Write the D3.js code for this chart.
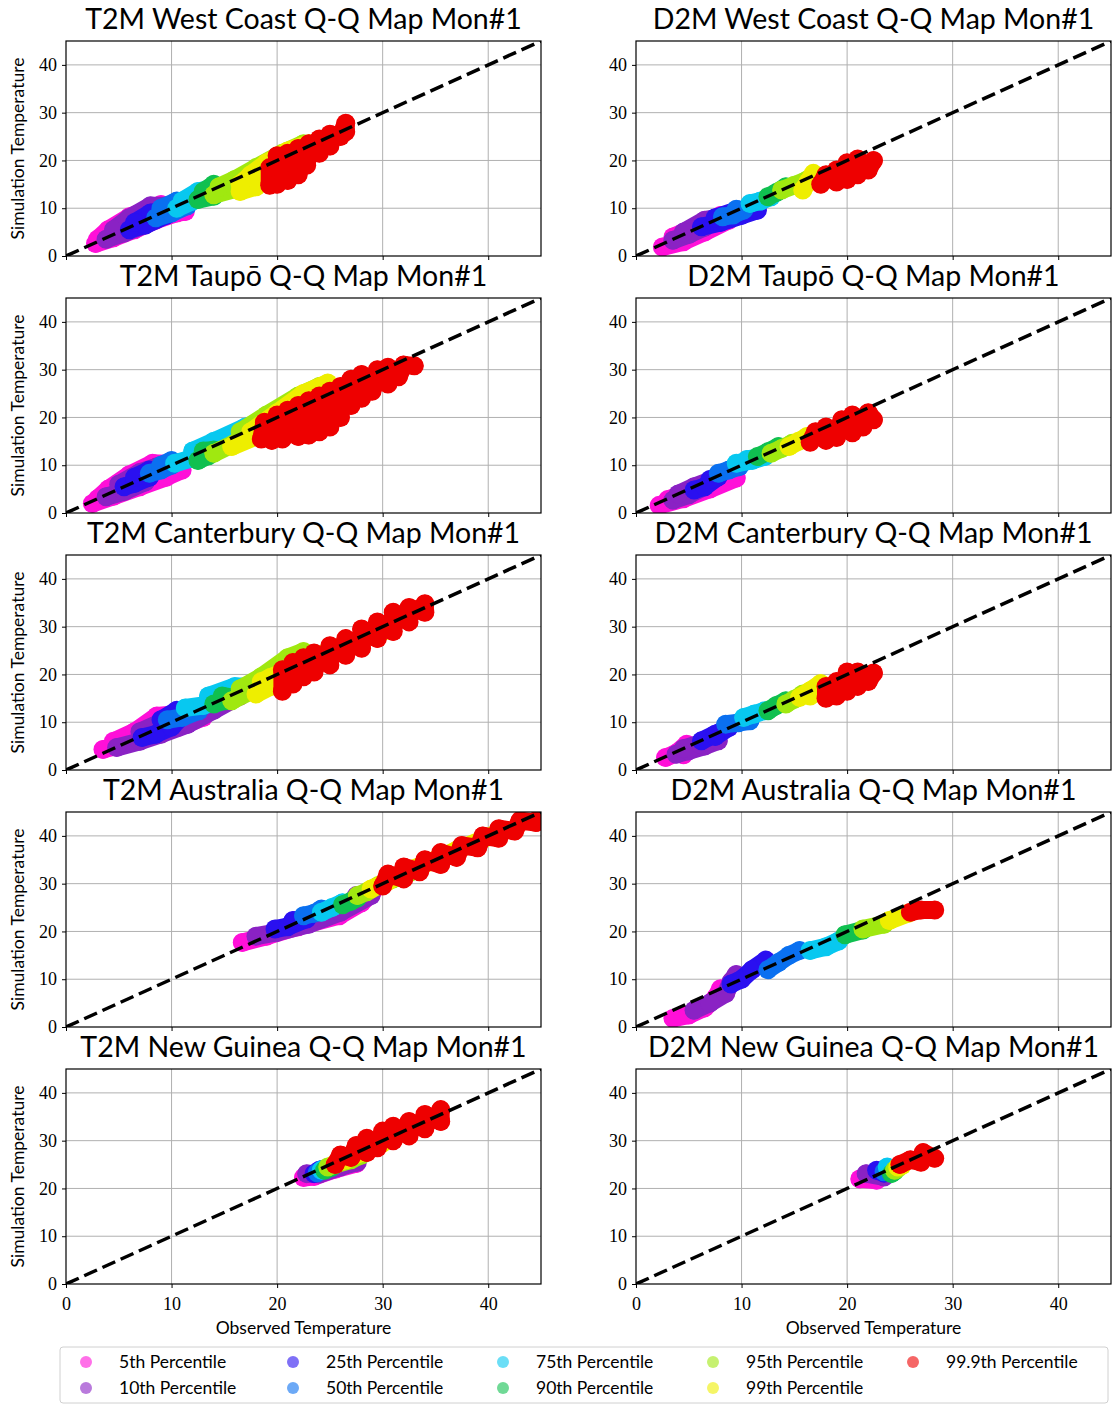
<!DOCTYPE html>
<html>
<head>
<meta charset="utf-8">
<script src="https://cdn.jsdelivr.net/npm/d3@7"></script>
<style>
  body { margin: 0; background: #fff; }
  svg text { fill: #000; }
</style>
</head>
<body>
<div id="chart"></div>
<script>
// legend labels and scatter colours, drawn 5th first, 99.9th last
const percentiles = ['5th Percentile', '10th Percentile', '25th Percentile', '50th Percentile', '75th Percentile',
                     '90th Percentile', '95th Percentile', '99th Percentile', '99.9th Percentile'];
const pColors = ['#ff10d8', '#8a22c4', '#2a10f0', '#0a70f0', '#08c8f0', '#10c050', '#a0e810', '#eeee00', '#ee0000'];

const ticks = [0, 10, 20, 30, 40];
const diag = [[0, 0], [45, 45]];

// each panel: one list of [observed, simulated] per percentile
const t2mWestCoast = [
  [[2.8,2.6],[4.5,3.8],[6.5,5.5],[8.5,7.5],[10.5,9],[11.3,9.3],[9,10.8],[6,8.2],[4,5.5],[3,3.5]],
  [[3.8,3.5],[5.5,4.8],[7.5,6.5],[9.5,8.5],[10,10.5],[8,10.5],[6,8],[4.5,5.5]],
  [[6,5.5],[7.5,6.5],[9.5,8.5],[10,10],[8,9],[6.5,7]],
  [[8.5,8],[10,9],[11.5,10.5],[10.5,11.5],[9,10]],
  [[10.5,10],[12,11.5],[13.5,13],[14.5,14.5],[12.5,13.5],[11,11.5]],
  [[12.5,11.8],[14,12.5],[15,14],[14,15],[13,13.5]],
  [[14,12.8],[16,14],[17.5,16.5],[19,18.5],[21,21],[22.5,23.5],[20.5,21.5],[18,18.5],[16,16],[14.5,14.5]],
  [[16.5,13.5],[18,14.5],[19,16.5],[20.5,19],[22,22],[23,23.5],[21,22],[19,19.5],[17.5,17],[16.5,15]],
  [[19.3,14.8],[19.3,18.5],[20,15],[20,21],[21,15.8],[21,21.5],[22,17],[22,22.5],[22.8,19],[23,23.5],[24,21.5],[24,24.5],[25,23],[25,25.5],[26,25],[26.5,27.8],[26.5,26]]
];
const t2mTaupo = [
  [[2.5,2],[4.5,3.5],[7,5.5],[9.5,7.5],[11,9],[10.5,10.2],[8.2,10.4],[6,8],[4,5],[3,3]],
  [[3.8,3.4],[5.5,4.5],[7.5,6.5],[8.6,9.7],[7,8.5],[5,6]],
  [[5.5,5.5],[6.5,6.2],[7.9,7.5],[7.9,9],[6.5,7.5]],
  [[7.9,8.3],[9,9],[10,10],[10,11],[9,10]],
  [[10.3,10.4],[12,11.5],[14.7,14.6],[16.5,16.5],[18.5,18.8],[20,20.2],[17,18],[14,15],[12,13]],
  [[12.5,11],[13.5,12],[14,13.2],[13,13]],
  [[14,12.5],[16,14.6],[18,17.5],[20,20],[22,23.5],[24,26.5],[22,24.5],[19,20.5],[16.5,17]],
  [[15.7,13.9],[18,16],[19.5,18.5],[21.5,21.5],[23.5,25],[24.8,27.2],[22.5,25],[20,21],[17.5,17]],
  [[18.5,15.5],[18.8,19],[19.5,15.2],[20,20.5],[20.5,15.5],[21,21.5],[22,16],[22,22.5],[23,16.3],[23,23.5],[24,17],[24,24.5],[25,18],[25,25.5],[26,20],[26,26.5],[27,22.5],[27,28],[28,24],[28,29],[29,25.5],[29.5,30],[30.5,27],[30.5,30.5],[31.5,28.5],[32,31],[33,30.8]]
];
const t2mCanterbury = [
  [[3.5,4.3],[5.5,5.5],[8,7.5],[10.6,8.9],[13,11],[12,12],[8.6,11.3],[6.5,8],[4.5,6]],
  [[4.8,4.7],[7,6],[9,7.5],[11.5,9.5],[14,12.5],[16.5,15.5],[15,15.5],[12,12.5],[9.5,10.5],[7,8]],
  [[7.2,6.8],[8.5,7.5],[10,9],[11.3,12],[10.5,12.5],[9,10.5]],
  [[9.6,10.5],[11,11],[12.6,12.4],[11.5,12.5]],
  [[11.3,13],[13,13.5],[15,14.8],[17.4,17.5],[16,17.5],[13.5,15.5]],
  [[14,13.8],[15,14.5],[15.7,15.2],[14.8,15.5]],
  [[15.7,14.5],[17.5,16.5],[19.5,19],[21,21.5],[22.5,24.8],[21,23.5],[18.5,19.5],[16.5,17]],
  [[18,15.9],[19.4,17.5],[19.4,19.4],[18.5,18.5],[25,25],[27.5,27],[30.3,29.2]],
  [[20.5,16.5],[20.5,21],[21.5,18],[21.5,22.5],[22.5,19.5],[22.5,23.5],[23.5,20.5],[23.5,24.5],[25,22],[25,26],[26.5,24],[26.5,27.5],[28,25.5],[28,29.5],[29.5,27.5],[29.5,31],[31,29],[31,33],[32.5,31],[32.5,34],[34,33],[34,34.8]]
];
const t2mAustralia = [
  [[16.7,17.7],[19,19],[22,21],[25.9,23.3],[28,26],[29,28.2]],
  [[18,19],[20,19.8],[23,21.5],[26,24],[28.9,27.5],[27.5,27.5]],
  [[19.8,20.5],[21,21],[22.8,22.6],[21.5,22.3]],
  [[22.5,23.3],[23.5,23.8],[24.2,24.7]],
  [[24.2,24],[25.2,25],[26.2,26]],
  [[26.2,25.6],[27,26.3],[27.6,27]],
  [[27.6,27.5],[28.5,28.3],[29.6,29.6],[31,31],[32.6,32.4]],
  [[28.9,28.9],[30.5,30.5],[32,32.5],[33.7,33.8],[37,37],[40.4,40.1]],
  [[30,29.5],[30.5,32],[32,31],[32,33.5],[33.5,32.5],[34,35],[35.5,34],[35.5,36.5],[37,35.5],[37.5,38],[39,37.5],[39.5,40],[41,39.5],[41,41.5],[42.5,41],[43,43.2],[44.5,42.8],[45,44.5]]
];
const t2mNewGuinea = [
  [[22.5,22.3],[23.5,22.5],[25.5,24],[27.5,25.2]],
  [[22.8,23.1],[24,23],[26,24.5],[27.6,25.5]],
  [[23.5,23.1],[24,23.8]],
  [[23.8,23.3],[24.3,24]],
  [[24.2,23.8],[24.8,24.3]],
  [[24.5,23.8],[25.2,24.5]],
  [[24.8,24.5],[25.5,25],[27,26],[28,27]],
  [[25.5,25.2],[26.5,26],[28,27.5],[30,29.5]],
  [[25.5,25],[26,27],[27,26.5],[27.5,29],[28.5,27.5],[28.5,30.5],[29.5,28.5],[30,32],[31,30],[31,33],[32.5,31],[32.5,34],[34,32.5],[34,35.5],[35.5,34],[35.5,36.5]]
];
const d2mWestCoast = [
  [[2.5,1.9],[4.5,3],[6.5,5],[8.8,7.5],[8,8.5],[5.5,6],[3.5,4]],
  [[3.5,3.3],[5,4.5],[6.5,6],[8.2,8.2],[6.5,7.5],[4.5,5]],
  [[6.2,6.1],[8,7],[10,8.5],[11.5,9.6],[9.5,9.5],[7.5,8]],
  [[8.2,8.2],[9.2,8.6],[10.2,9.6],[9.5,9.8]],
  [[10.8,11],[11.8,11.5],[12.8,12.4]],
  [[12.5,12.4],[13.3,13.3],[14.2,14.5]],
  [[13.8,13.8],[15,14.8],[16.2,15.9]],
  [[15.8,13.8],[16.3,15.5],[16.8,17.3]],
  [[17.5,15],[18,17],[19,15.5],[19,18],[20,16],[20,19.5],[21,17],[21,20.3],[22,18],[22.5,20]]
];
const d2mTaupo = [
  [[2.2,1.6],[4.5,3],[7,5],[9.5,7.3],[8,7.5],[5,4.5],[3,2.8]],
  [[3.5,2.7],[5,3.8],[6.5,5.5],[7.2,6.9],[5.5,5.5],[4,4]],
  [[5.5,4.8],[6.5,5.5],[7.8,7.6],[7,7]],
  [[7.8,8.3],[8.8,9],[9.8,9.7]],
  [[9.5,10.4],[11,11],[12.2,11.8],[10.5,11.2]],
  [[11.5,11.8],[12.5,12.8],[13.5,13.9]],
  [[12.8,12.5],[13.8,13.5],[14.8,14.6]],
  [[14.5,13.9],[15.4,15],[16.2,16]],
  [[16.5,14.8],[17,17],[18,15.2],[18,18],[19,15.8],[19.5,19.5],[20.5,16.8],[20.5,20.5],[21.5,18],[22,21],[22.5,19.5]]
];
const d2mCanterbury = [
  [[2.8,2.6],[3.8,3.5],[4.8,5.4],[4.5,3.2]],
  [[3.8,3.3],[5,4],[6.5,5],[7.8,6.1],[6,5.5],[4.5,4.5]],
  [[6.2,6.1],[7.5,7.5],[8.8,8.9],[7.5,7]],
  [[8.5,9.6],[9.7,9.9],[10.8,10.3]],
  [[10.2,11],[11.2,11.7],[12.2,12.4]],
  [[12.5,12.4],[13.3,13.5],[14.2,14.5]],
  [[14.2,13.8],[15,14.8],[15.8,15.9]],
  [[15.5,15.2],[16.5,16.6],[17.5,18.1],[16.5,15.5]],
  [[18,15],[18,17.5],[19,15.5],[19,18.5],[20,16.5],[20,20.5],[21,17.5],[21,20.5],[22,18.5],[22.5,20.3]]
];
const d2mAustralia = [
  [[3.5,1.8],[5,2.5],[6.5,4],[7.5,6],[8,8]],
  [[5.5,3.5],[7,5],[8.5,7],[9,9.5],[9.5,11]],
  [[9,9],[10,10],[11,12],[12.3,14]],
  [[12.5,12],[13.5,13.5],[14.5,15],[15.5,16]],
  [[16.5,16],[18,16.8],[19.2,18]],
  [[19.8,19.3],[21.5,20.3]],
  [[21.5,20.5],[23.5,21.5]],
  [[24,22.3],[25.8,23.8]],
  [[26,24],[27,24.5],[28.3,24.5]]
];
const d2mNewGuinea = [
  [[21.2,22],[22.8,21.7]],
  [[21.8,23.1],[23.5,22.4]],
  [[22.8,23.8],[23.5,23.2]],
  [[23.5,23.5],[23.8,24]],
  [[23.8,24.5],[24.2,23.8]],
  [[24.2,23.1],[24.5,23.6]],
  [[24.5,23.8],[24.8,24.2]],
  [[24.8,24.5],[25.2,24.8]],
  [[25,25],[26,26],[27,25.5],[27.2,27.5],[28.3,26.3]]
];

const panels = [
  {title: 'T2M West Coast Q-Q Map Mon#1', data: t2mWestCoast},
  {title: 'D2M West Coast Q-Q Map Mon#1', data: d2mWestCoast},
  {title: 'T2M Taupō Q-Q Map Mon#1', data: t2mTaupo},
  {title: 'D2M Taupō Q-Q Map Mon#1', data: d2mTaupo},
  {title: 'T2M Canterbury Q-Q Map Mon#1', data: t2mCanterbury},
  {title: 'D2M Canterbury Q-Q Map Mon#1', data: d2mCanterbury},
  {title: 'T2M Australia Q-Q Map Mon#1', data: t2mAustralia},
  {title: 'D2M Australia Q-Q Map Mon#1', data: d2mAustralia},
  {title: 'T2M New Guinea Q-Q Map Mon#1', data: t2mNewGuinea},
  {title: 'D2M New Guinea Q-Q Map Mon#1', data: d2mNewGuinea}
];

const W = 1113, H = 1405;
const colX = [66, 636];
const rowTop = 41, rowStep = 257;
const pw = 475, ph = 215;
const sansFont = 'Lato, "DejaVu Sans", sans-serif';
const serifFont = '"Liberation Serif", "DejaVu Serif", serif';

const svg = d3.select('#chart').append('svg')
  .attr('width', W).attr('height', H)
  .attr('font-family', sansFont);

const x = d3.scaleLinear().domain([0, 45]).range([0, pw]);
const y = d3.scaleLinear().domain([0, 45]).range([ph, 0]);
const line = d3.line().x(d => x(d[0])).y(d => y(d[1]));

panels.forEach((p, i) => {
  const col = i % 2, row = Math.floor(i / 2);
  const g = svg.append('g').attr('transform', `translate(${colX[col]},${rowTop + row * rowStep})`);

  g.append('defs').append('clipPath').attr('id', 'clip' + i)
    .append('rect').attr('width', pw).attr('height', ph);

  // grid
  g.append('g').selectAll('line').data(ticks.slice(1)).enter().append('line')
    .attr('x1', d => x(d)).attr('x2', d => x(d)).attr('y1', 0).attr('y2', ph)
    .style('stroke', '#b0b0b0').style('stroke-width', 1);
  g.append('g').selectAll('line').data(ticks.slice(1)).enter().append('line')
    .attr('y1', d => y(d)).attr('y2', d => y(d)).attr('x1', 0).attr('x2', pw)
    .style('stroke', '#b0b0b0').style('stroke-width', 1);

  // percentile clouds
  const clouds = g.append('g').attr('clip-path', `url(#clip${i})`);
  p.data.forEach((pts, k) => {
    clouds.append('path').datum(pts).attr('d', line)
      .style('fill', 'none').style('stroke', pColors[k]).style('stroke-width', 18)
      .style('stroke-linecap', 'round').style('stroke-linejoin', 'round');
    clouds.selectAll(null).data(pts).enter().append('circle')
      .attr('cx', d => x(d[0])).attr('cy', d => y(d[1])).attr('r', 9.5)
      .style('fill', pColors[k]);
  });

  // 1:1 line
  g.append('path').datum(diag).attr('d', line).attr('clip-path', `url(#clip${i})`)
    .style('fill', 'none').style('stroke', '#000').style('stroke-width', 3.5)
    .style('stroke-dasharray', '14,6');

  // axes
  const xa = g.append('g').attr('transform', `translate(0,${ph})`)
    .call(d3.axisBottom(x).tickValues(ticks).tickSize(4).tickPadding(9).tickFormat(row === 4 ? d3.format('d') : ''));
  const ya = g.append('g')
    .call(d3.axisLeft(y).tickValues(ticks).tickSize(4).tickPadding(5).tickFormat(d3.format('d')));
  [xa, ya].forEach(a => {
    a.attr('font-family', serifFont).attr('font-size', 18);
    a.select('.domain').remove();
    a.selectAll('text').style('font-family', serifFont).style('font-size', '18px').style('fill', '#000');
    a.selectAll('line').style('stroke', '#000');
  });

  g.append('rect').attr('width', pw).attr('height', ph)
    .style('fill', 'none').style('stroke', '#000').style('stroke-width', 1.2);

  g.append('text').attr('x', pw / 2).attr('y', -12).attr('text-anchor', 'middle')
    .style('font-size', '28.5px').text(p.title);

  if (col === 0) {
    g.append('text').attr('transform', 'rotate(-90)').attr('x', -ph / 2).attr('y', -42)
      .attr('text-anchor', 'middle').style('font-size', '17.5px').text('Simulation Temperature');
  }
  if (row === 4) {
    g.append('text').attr('x', pw / 2).attr('y', ph + 50).attr('text-anchor', 'middle')
      .style('font-size', '17.5px').text('Observed Temperature');
  }
});

// legend
const lg = svg.append('g').attr('transform', 'translate(60,1347)');
lg.append('rect').attr('width', 1048).attr('height', 56).attr('rx', 3)
  .style('fill', '#fff').style('stroke', '#d0d0d0').style('stroke-width', 1);
const colW = [0, 207, 417, 627, 827];
lg.selectAll('.item').data(percentiles).enter().append('g').attr('class', 'item')
  .attr('transform', (d, i) => `translate(${colW[Math.floor(i / 2)] + 26},${i % 2 === 0 ? 15 : 41})`)
  .each(function(d, i) {
    const it = d3.select(this);
    it.append('circle').attr('r', 6).style('fill', pColors[i]).style('opacity', 0.6);
    it.append('text').attr('x', 33).attr('dy', '0.35em').style('font-size', '17.5px').text(d);
  });
</script>
</body>
</html>
